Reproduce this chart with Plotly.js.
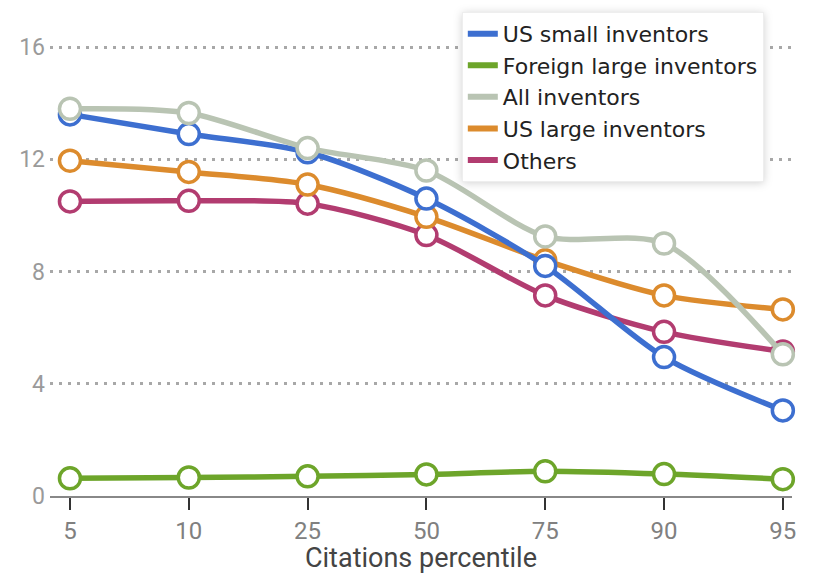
<!DOCTYPE html>
<html>
<head>
<meta charset="utf-8">
<script src="https://cdn.plot.ly/plotly-3.0.1.min.js"></script>
<style>
  html, body { margin: 0; padding: 0; background: #fff; }
  #chart { width: 813px; height: 574px; }
  .legend .bg { filter: drop-shadow(0px 1px 4px rgba(0,0,0,0.18)); }
</style>
</head>
<body>
<div id="chart"></div>
<script>
// Citations percentile categories
const percentiles = ['5', '10', '25', '50', '75', '90', '95'];

// Series values
const usSmall      = [13.6, 12.9, 12.25, 10.6, 8.2, 4.95, 3.05];
const foreignLarge = [0.63, 0.66, 0.7, 0.77, 0.88, 0.78, 0.6];
const allInventors = [13.8, 13.65, 12.4, 11.6, 9.25, 9.0, 5.05];
const usLarge      = [11.95, 11.55, 11.1, 9.95, 8.4, 7.15, 6.65];
const others       = [10.5, 10.52, 10.42, 9.3, 7.15, 5.85, 5.15];

const yTicks = [0, 4, 8, 12, 16];

const series = [
  { name: 'US small inventors',       y: usSmall,      color: '#3d6fd0', rank: 1 },
  { name: 'Foreign large inventors',  y: foreignLarge, color: '#6da52a', rank: 2 },
  { name: 'All inventors',            y: allInventors, color: '#b9c4b3', rank: 3 },
  { name: 'US large inventors',       y: usLarge,      color: '#dc8b2d', rank: 4 },
  { name: 'Others',                   y: others,       color: '#b23c70', rank: 5 }
];

// drawing order (bottom to top)
const drawOrder = ['Foreign large inventors', 'Others', 'US large inventors', 'US small inventors', 'All inventors'];

const traces = [];
drawOrder.forEach(n => {
  const s = series.find(d => d.name === n);
  traces.push({
    x: percentiles, y: s.y, type: 'scatter', mode: 'lines+markers',
    line: { color: s.color, width: 5.5, shape: 'spline', smoothing: 0.8 },
    marker: { size: 21, color: '#ffffff', line: { color: s.color, width: 3.5 } },
    cliponaxis: false, showlegend: false, hoverinfo: 'skip'
  });
});
// legend entries: line swatches only
series.forEach(s => {
  traces.push({
    x: [null], y: [null], type: 'scatter', mode: 'lines', name: s.name,
    line: { color: s.color, width: 6 }, legendrank: s.rank, showlegend: true
  });
});

const layout = {
  width: 813, height: 574,
  margin: { l: 50, r: 21, t: 13, b: 78 },
  paper_bgcolor: '#fff', plot_bgcolor: '#fff',
  font: { family: 'Roboto, sans-serif' },
  xaxis: {
    type: 'category', range: [-0.168, 6.077],
    showgrid: false, zeroline: false,
    showline: true, linecolor: '#888', linewidth: 2,
    ticks: 'outside', ticklen: 12, tickwidth: 2, tickcolor: '#333',
    tickfont: { size: 24, color: '#808080' },
    title: { text: 'Citations percentile', font: { size: 27, color: '#444' }, standoff: 6 }
  },
  yaxis: {
    range: [0, 17], tickvals: yTicks, ticktext: yTicks.map(String),
    showgrid: true, gridcolor: '#a8a8a8', gridwidth: 3, griddash: '3px,6px',
    zeroline: false, showline: false, ticks: '',
    tickfont: { size: 23, color: '#9a9a9a' }, ticklabelstandoff: 4
  },
  legend: {
    x: 0.555, xanchor: 'left', y: 1.015, yanchor: 'top',
    bgcolor: '#ffffff', bordercolor: '#eeeeee', borderwidth: 1,
    font: { family: '"DejaVu Sans", sans-serif', size: 22, color: '#222' },
    itemwidth: 30, tracegroupgap: 0
  },
  showlegend: true
};

Plotly.newPlot('chart', traces, layout, { displayModeBar: false, staticPlot: true });
</script>
</body>
</html>
